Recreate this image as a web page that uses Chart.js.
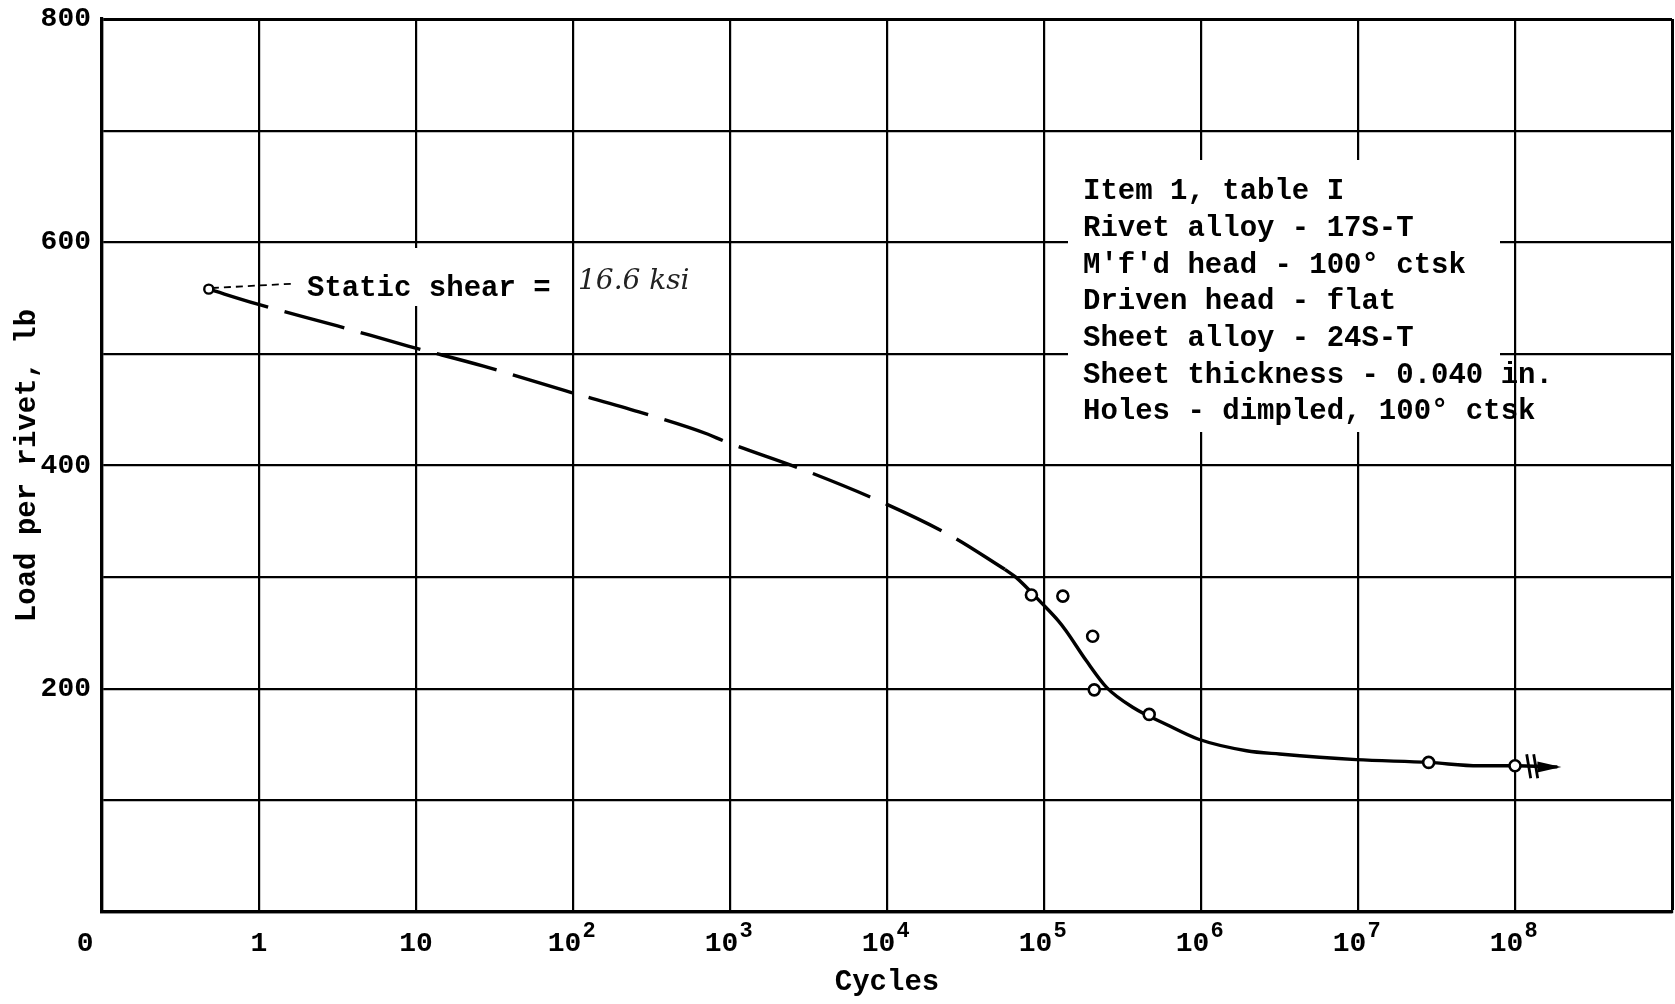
<!DOCTYPE html>
<html>
<head>
<meta charset="utf-8">
<script src="https://cdn.jsdelivr.net/npm/chart.js@4.4.1/dist/chart.umd.min.js"></script>
<style>
  html, body { margin: 0; padding: 0; background: #fff; }
</style>
</head>
<body>
<canvas id="chart" width="1675" height="1004"></canvas>
<script>
// x values are log10(cycles); the left edge (-1) is the "0" of the chart
const staticShearLog = [-0.32];
const staticShearLoad = [558];

const testCyclesLog = [4.92, 5.12, 5.31, 5.32, 5.67, 7.45, 8.00];
const testLoad = [284, 283, 247, 199, 177, 134, 131];

const dashedCurveLog = [-0.32, -0.02, 0.50, 0.95, 1.43, 1.95, 2.42, 2.86, 2.96, 3.47, 3.97, 4.42, 4.75];
const dashedCurveLoad = [558, 545, 525, 507, 489, 467, 448, 428, 422, 396, 367, 336, 307];

const solidCurveLog = [4.75, 4.82, 4.99, 5.09, 5.14, 5.27, 5.40, 5.57, 5.78, 5.98, 6.29, 6.50, 6.99, 7.45, 7.77, 8.00, 8.27];
const solidCurveLoad = [307, 300, 276, 261, 252, 225, 201, 183, 168, 155, 144.5, 141.5, 136.5, 134, 131, 131, 130];

const leaderLog = [-0.30, 0.23];
const leaderLoad = [559, 563];

const xTickValues = [-1, 0, 1, 2, 3, 4, 5, 6, 7, 8];
const xTickLabels = ['0', '1', '10', '10', '10', '10', '10', '10', '10', '10'];
const xTickExponents = ['', '', '', '2', '3', '4', '5', '6', '7', '8'];
const yTickLabels = [200, 400, 600, 800];

const noteLines = [
  'Item 1, table I',
  'Rivet alloy - 17S-T',
  "M'f'd head - 100° ctsk",
  'Driven head - flat',
  'Sheet alloy - 24S-T',
  'Sheet thickness - 0.040 in.',
  'Holes - dimpled, 100° ctsk'
];
const staticNote = 'Static shear =';
const handNote = '16.6 ksi';

const FONT = '"Liberation Mono", "DejaVu Sans Mono", monospace';

function zip(xs, ys) {
  return xs.map((x, i) => ({ x: x, y: ys[i] }));
}

function xTickText(value) {
  const i = xTickValues.indexOf(value);
  if (i < 0) return '';
  // trailing spaces shift the text so the whole label sits like the original
  if (xTickExponents[i]) return xTickLabels[i] + ' ';
  if (value === -1) return xTickLabels[i] + '  ';
  return xTickLabels[i];
}

const notesPlugin = {
  id: 'notes',
  beforeDatasetsDraw(chart) {
    const ctx = chart.ctx;
    ctx.save();
    // note block and static-shear label are pasted over the grid
    ctx.fillStyle = '#fff';
    ctx.fillRect(1068, 160, 432, 272);
    ctx.fillRect(300, 248, 250, 58);
    ctx.fillStyle = '#000';
    ctx.textBaseline = 'middle';
    ctx.font = 'bold 29px ' + FONT;
    noteLines.forEach((t, i) => ctx.fillText(t, 1083, 192 + i * 36.7));
    ctx.fillText(staticNote, 307, 289);
    ctx.font = 'italic 28px "DejaVu Serif"';
    ctx.fillStyle = '#222';
    ctx.fillText(handNote, 578, 282);
    ctx.restore();
  },
  afterDatasetsDraw(chart) {
    const ctx = chart.ctx;
    const xs = chart.scales.x;
    const ys = chart.scales.y;
    ctx.save();
    ctx.strokeStyle = '#000';
    ctx.fillStyle = '#000';

    // arrow head at the end of the faired curve
    const n = solidCurveLog.length - 1;
    const tx = xs.getPixelForValue(solidCurveLog[n]);
    const ty = ys.getPixelForValue(solidCurveLoad[n]);
    ctx.beginPath();
    ctx.moveTo(tx + 4, ty);
    ctx.lineTo(tx - 20, ty - 5.5);
    ctx.lineTo(tx - 20, ty + 5.5);
    ctx.closePath();
    ctx.fill();

    // break mark
    const bx = xs.getPixelForValue(8.10);
    const by = ys.getPixelForValue(130.5);
    ctx.lineWidth = 2.8;
    ctx.beginPath();
    ctx.moveTo(bx - 4, by - 12); ctx.lineTo(bx, by + 12);
    ctx.moveTo(bx + 3, by - 12); ctx.lineTo(bx + 7, by + 12);
    ctx.stroke();

    // exponents on the x tick labels
    ctx.font = 'bold 28px ' + FONT;
    const charW = ctx.measureText('0').width;
    const labelY = xs.top + 15 + 28 * 1.2 / 2;
    ctx.font = 'bold 22px ' + FONT;
    ctx.textBaseline = 'middle';
    ctx.textAlign = 'left';
    xTickValues.forEach((v, i) => {
      if (!xTickExponents[i]) return;
      const px = xs.getPixelForValue(v);
      ctx.fillText(xTickExponents[i], px + charW * 0.5 + 1, labelY - 12);
    });
    ctx.restore();
  }
};

const config = {
  type: 'scatter',
  data: {
    datasets: [
      {
        label: 'Test points',
        data: zip(testCyclesLog, testLoad),
        pointRadius: 5.5,
        pointBorderWidth: 2.6,
        pointBackgroundColor: '#fff',
        pointBorderColor: '#000',
        order: 0
      },
      {
        label: 'Static shear',
        data: zip(staticShearLog, staticShearLoad),
        pointRadius: 4.5,
        pointBorderWidth: 2.4,
        pointBackgroundColor: '#fff',
        pointBorderColor: '#000',
        order: 0
      },
      {
        label: 'Faired curve (dashed)',
        data: zip(dashedCurveLog, dashedCurveLoad),
        showLine: true,
        borderColor: '#000',
        borderWidth: 3.4,
        borderDash: [62, 17],
        cubicInterpolationMode: 'monotone',
        pointRadius: 0,
        order: 2
      },
      {
        label: 'Faired curve',
        data: zip(solidCurveLog, solidCurveLoad),
        showLine: true,
        borderColor: '#000',
        borderWidth: 3.4,
        cubicInterpolationMode: 'monotone',
        pointRadius: 0,
        order: 2
      },
      {
        label: 'Leader',
        data: zip(leaderLog, leaderLoad),
        showLine: true,
        borderColor: '#000',
        borderWidth: 1.8,
        borderDash: [7, 5],
        pointRadius: 0,
        order: 3
      }
    ]
  },
  options: {
    responsive: false,
    animation: false,
    layout: {
      autoPadding: false,
      padding: { top: 19, right: 3, bottom: 0, left: 0 }
    },
    plugins: {
      legend: { display: false },
      tooltip: { enabled: false }
    },
    scales: {
      x: {
        type: 'linear',
        min: -1,
        max: 9,
        afterFit(scale) {
          scale.height = 92;
          scale.paddingLeft = 0;
          scale.paddingRight = 0;
        },
        grid: {
          color: '#000',
          lineWidth: (c) => (c.tick && c.tick.value === 9 ? 3 : 2.2),
          drawTicks: false
        },
        border: { color: '#000', width: 3.2 },
        ticks: {
          stepSize: 1,
          autoSkip: false,
          maxRotation: 0,
          padding: 15,
          color: '#000',
          font: { family: FONT, size: 28, weight: 'bold' },
          callback: (v) => xTickText(v)
        },
        title: {
          display: true,
          text: 'Cycles',
          color: '#000',
          font: { family: FONT, size: 29, weight: 'bold' },
          padding: { top: 0, bottom: 4 }
        }
      },
      y: {
        min: 0,
        max: 800,
        afterFit(scale) {
          scale.width = 102;
          scale.paddingTop = 0;
          scale.paddingBottom = 0;
        },
        grid: {
          color: '#000',
          lineWidth: (c) => (c.tick && c.tick.value === 800 ? 3 : 2.2),
          drawTicks: false
        },
        border: { color: '#000', width: 3.2 },
        ticks: {
          stepSize: 100,
          padding: 11,
          color: '#000',
          font: { family: FONT, size: 28, weight: 'bold' },
          callback: (v) => (yTickLabels.includes(v) ? String(v) : '')
        },
        title: {
          display: true,
          text: 'Load per rivet, lb',
          color: '#000',
          font: { family: FONT, size: 29, weight: 'bold' },
          padding: { top: 10, bottom: 0 }
        }
      }
    }
  },
  plugins: [notesPlugin]
};

new Chart(document.getElementById('chart'), config);
</script>
</body>
</html>
